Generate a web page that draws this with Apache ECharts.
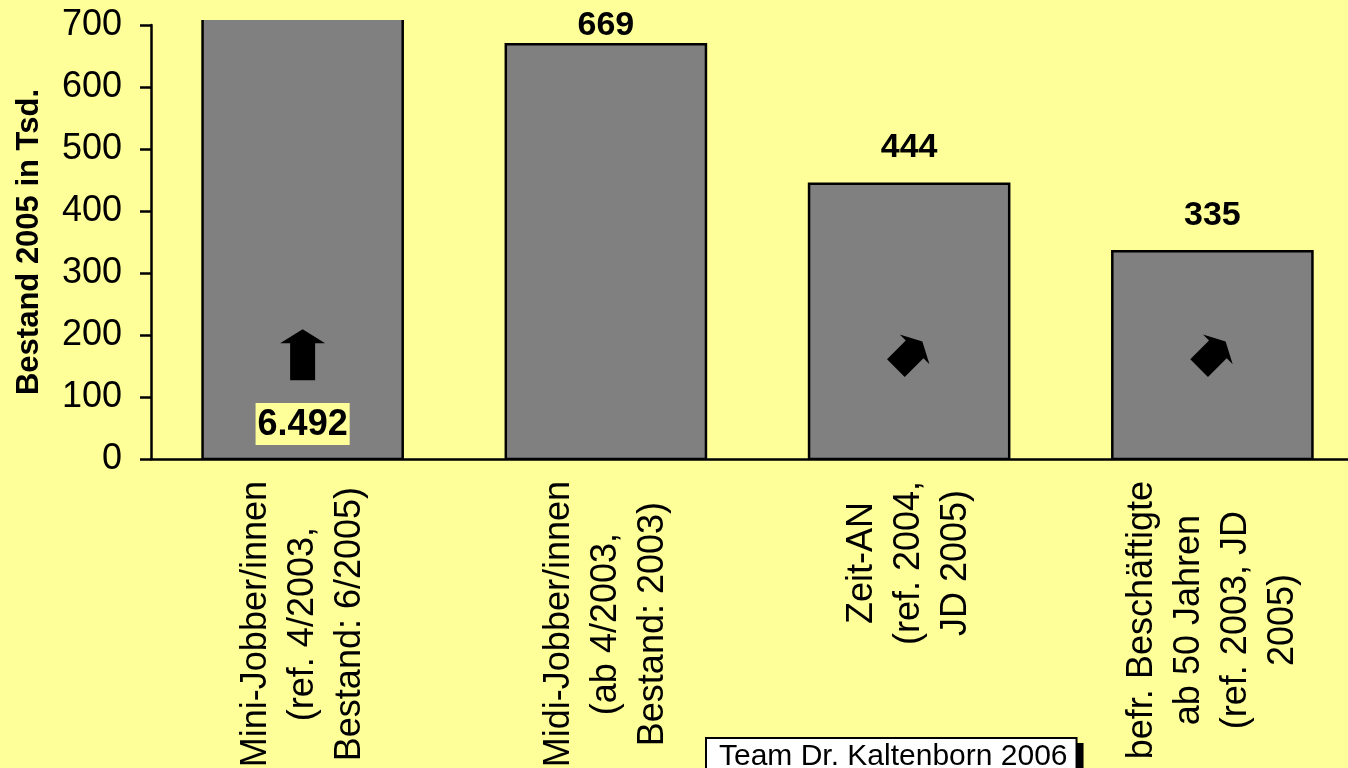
<!DOCTYPE html>
<html lang="de">
<head>
<meta charset="utf-8">
<title>Bestand 2005 in Tsd.</title>
<script src="https://cdn.jsdelivr.net/npm/echarts@6/dist/echarts.min.js"></script>
<style>
  html, body { margin: 0; padding: 0; background: #ffff99; }
  #chart { width: 1348px; height: 768px; }
</style>
</head>
<body>
<div id="chart"></div>
<script>
// ---- data ----
const categories = [
  'Mini-Jobber/innen\n(ref. 4/2003,\nBestand: 6/2005)',
  'Midi-Jobber/innen\n(ab 4/2003,\nBestand: 2003)',
  'Zeit-AN\n(ref. 2004,\nJD 2005)',
  'befr. Beschäftigte\nab 50 Jahren\n(ref. 2003, JD\n2005)'
];
const bestand = [6492, 669, 444, 335];          // Bestand 2005 in Tsd.
const trend = ['up', null, 'up-right', 'up-right'];
const yMax = 700;
const yStep = 100;
const yAxisTitle = 'Bestand 2005 in Tsd.';
const sourceNote = 'Team Dr. Kaltenborn 2006';

// ---- styling ----
const FONT = '"Liberation Sans", Arial, Helvetica, sans-serif';
const INK = '#000000';
const BG = '#ffff99';
const BAR_FILL = '#808080';
const LINE_W = 2.5;

// plot frame (pixels)
const CH = 768;
const plotLeft = 151;
const plotBottom = 459;
const axisTop = 25;     // where the 0..700 axis ends
const barsTop = 20;     // bars taller than the axis run on to here
// the bar grid is a little taller than the axis grid; keep both scales identical
const barScaleMax = yMax * (plotBottom - barsTop) / (plotBottom - axisTop);

const ARROW_UP = 'path://M22.5,0L45,14L35,14L35,51L10,51L10,14L0,14Z';
const ARROW_DIAG = 'path://M21,0L42,11L33.5,11L33.5,37.5L8.5,37.5L8.5,11L0,11Z';
const arrowLevel = 168;

function deNumber(v) {
  return String(v).replace(/\B(?=(\d{3})+(?!\d))/g, '.');
}

function valueLabel(v) {
  if (v > yMax) {
    // value off the scale: printed inside the foot of the bar
    return {
      position: 'insideBottom', distance: 14, fontSize: 36,
      backgroundColor: BG, padding: [4, 2, 2, 2]
    };
  }
  return { position: 'top', distance: (yMax - v) < 60 ? 2 : 19 };
}

const arrowData = trend.map((t, i) => {
  if (!t) return null;
  const up = t === 'up';
  return {
    value: [i, arrowLevel],
    symbol: up ? ARROW_UP : ARROW_DIAG,
    symbolSize: up ? [45, 51] : [42, 37.5],
    symbolRotate: up ? 0 : -45
  };
}).filter(Boolean);

const chart = echarts.init(document.getElementById('chart'), null, { renderer: 'canvas' });

chart.setOption({
  backgroundColor: BG,
  animation: false,
  textStyle: { fontFamily: FONT, color: INK },
  grid: [
    { left: plotLeft, right: -16, top: barsTop, bottom: CH - plotBottom, containLabel: false, outerBoundsMode: 'none' },
    { left: plotLeft, right: -16, top: axisTop, bottom: CH - plotBottom, containLabel: false, outerBoundsMode: 'none' }
  ],
  xAxis: [
    {
      type: 'category', gridIndex: 0, data: categories, boundaryGap: true,
      axisLine: { show: true, lineStyle: { color: INK, width: LINE_W } },
      axisTick: { show: false },
      splitLine: { show: false },
      axisLabel: {
        interval: 0, rotate: 90, margin: 22,
        color: INK, fontFamily: FONT, fontSize: 36, lineHeight: 47,
        formatter: s => s.split('\n').map(l => '{c|' + l + '}').join('\n'),
        rich: { c: { align: 'center', color: INK, fontFamily: FONT, fontSize: 36, lineHeight: 47 } }
      }
    },
    { type: 'category', gridIndex: 1, data: categories, show: false }
  ],
  yAxis: [
    { type: 'value', gridIndex: 0, min: 0, max: barScaleMax, show: false, splitLine: { show: false } },
    {
      type: 'value', gridIndex: 1, min: 0, max: yMax, interval: yStep,
      axisLine: { show: true, lineStyle: { color: INK, width: LINE_W } },
      axisTick: { show: true, inside: false, length: 11, lineStyle: { color: INK, width: LINE_W } },
      splitLine: { show: false },
      axisLabel: { margin: 29, color: INK, fontFamily: FONT, fontSize: 36 },
      name: yAxisTitle, nameLocation: 'middle', nameGap: 106,
      nameTextStyle: { color: INK, fontFamily: FONT, fontSize: 31, fontWeight: 'bold' }
    }
  ],
  series: [
    {
      // the bars, clipped to the plot area
      type: 'custom', xAxisIndex: 0, yAxisIndex: 0, clip: true, z: 2,
      data: bestand.map((v, i) => [i, v]),
      encode: { x: 0, y: 1 },
      renderItem(params, api) {
        const i = api.value(0);
        const v = api.value(1);
        const base = api.coord([i, 0]);
        const top = api.coord([i, v]);
        const w = api.size([1, 0])[0] * 0.66;
        return {
          type: 'rect',
          shape: { x: base[0] - w / 2, y: top[1], width: w, height: base[1] - top[1] },
          style: { fill: BAR_FILL, stroke: INK, lineWidth: LINE_W }
        };
      }
    },
    {
      // value labels for the bars
      type: 'bar', xAxisIndex: 0, yAxisIndex: 0, barWidth: '66%', clip: false, z: 3, silent: true,
      itemStyle: { color: 'rgba(0,0,0,0)' },
      label: {
        show: true, position: 'top', color: INK, fontFamily: FONT,
        fontWeight: 'bold', fontSize: 34,
        formatter: p => deNumber(p.value)
      },
      data: bestand.map(v => ({ value: v, label: valueLabel(v) }))
    },
    {
      // trend arrows
      type: 'scatter', xAxisIndex: 0, yAxisIndex: 0, z: 4, silent: true,
      itemStyle: { color: INK, opacity: 1 },
      data: arrowData
    }
  ],
  graphic: [
    {
      type: 'text', left: 705, top: 737, z: 10,
      style: {
        text: sourceNote,
        font: '30px ' + FONT,
        fill: INK,
        backgroundColor: '#ffffff',
        borderColor: INK, borderWidth: 2,
        padding: [3, 8, 3, 12],
        shadowColor: INK, shadowBlur: 0, shadowOffsetX: 6, shadowOffsetY: 6
      }
    }
  ]
});
</script>
</body>
</html>
